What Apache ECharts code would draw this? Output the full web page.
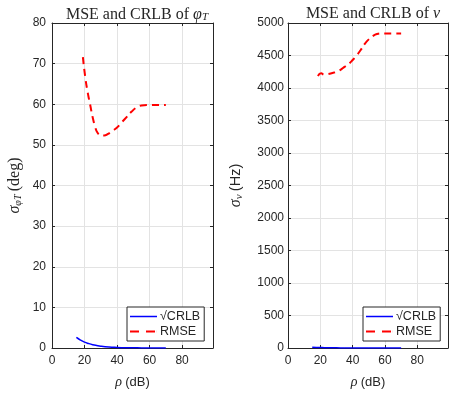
<!DOCTYPE html>
<html>
<head>
<meta charset="utf-8">
<script src="https://cdn.jsdelivr.net/npm/echarts@6/dist/echarts.min.js"></script>
<style>
html,body{margin:0;padding:0;background:#fff;}
#c{width:450px;height:394px;}
</style>
</head>
<body>
<div id="c"></div>
<script>
// ---- data ----
var rhoCrlb = [15, 17.5, 20, 22.5, 25, 27.5, 30, 35, 40, 45, 50, 55, 60, 65, 70];
var crlbPhi = [2.6, 1.95, 1.45, 1.1, 0.82, 0.62, 0.46, 0.26, 0.15, 0.08, 0.05, 0.03, 0.015, 0.01, 0.005];
var crlbNu  = [12, 9, 7, 5, 4, 3, 2, 1, 0.7, 0.4, 0.2, 0.1, 0.07, 0.04, 0.02];

var rhoRmsePhi = [19, 20.5, 22, 23.5, 25, 26.5, 28, 30, 32, 34.5, 37, 40, 43, 46, 49, 52, 55, 60, 65, 70];
var rmsePhi    = [71.6, 66.5, 62.8, 59.8, 56.8, 54.5, 53.0, 52.4, 52.3, 52.7, 53.4, 54.3, 55.6, 56.9, 58.2, 59.2, 59.7, 59.8, 59.8, 59.8];

var rhoRmseNu = [18.5, 20.5, 22.5, 25, 27.5, 30, 32.5, 35, 38, 40, 42.5, 45, 47.5, 50, 52.5, 55, 58, 62, 66, 70];
var rmseNu    = [4185, 4227, 4205, 4215, 4232, 4248, 4280, 4325, 4380, 4430, 4500, 4585, 4680, 4750, 4800, 4830, 4840, 4840, 4840, 4840];

var xTicks = [0, 20, 40, 60, 80];
var yTicksPhi = [0, 10, 20, 30, 40, 50, 60, 70, 80];
var yTicksNu = [0, 500, 1000, 1500, 2000, 2500, 3000, 3500, 4000, 4500, 5000];

var names = ['\u221ACRLB', 'RMSE'];

function pairs(xs, ys) { return xs.map(function (x, i) { return [x, ys[i]]; }); }

var AX = '#262626';
var GRID = '#e3e3e3';
var sans = 'Liberation Sans';
var serif = 'Liberation Serif';

function xMain(gi) {
  return {
    type: 'value', gridIndex: gi, min: 0, max: 99, interval: 20, position: 'bottom',
    axisLine: { show: true, onZero: false, lineStyle: { color: AX, width: 1 } },
    axisTick: { show: true, inside: true, length: 3, lineStyle: { color: AX } },
    axisLabel: {
      color: AX, fontFamily: sans, fontSize: 12, margin: 7, showMaxLabel: false,
      formatter: function (v) { return xTicks.indexOf(v) >= 0 ? String(v) : ''; }
    },
    splitLine: { show: true, lineStyle: { color: GRID, width: 1 } },
    name: '{i|\u03C1} {t|(dB)}', nameLocation: 'middle', nameGap: 27,
    nameTextStyle: {
      rich: {
        i: { fontFamily: serif, fontStyle: 'italic', fontSize: 14, color: AX },
        t: { fontFamily: sans, fontSize: 13, color: AX }
      }
    }
  };
}
function xTop(gi) {
  return {
    type: 'value', gridIndex: gi, min: 0, max: 99, interval: 20, position: 'top',
    axisLine: { show: true, onZero: false, lineStyle: { color: AX, width: 1 } },
    axisTick: { show: true, inside: true, length: 3, lineStyle: { color: AX } },
    axisLabel: { show: false }, splitLine: { show: false }
  };
}
function yMain(gi, ticks, interval, margin, name, rich, gap) {
  return {
    type: 'value', gridIndex: gi, min: 0, max: ticks[ticks.length - 1], interval: interval, position: 'left',
    axisLine: { show: true, onZero: false, lineStyle: { color: AX, width: 1 } },
    axisTick: { show: true, inside: true, length: 3, lineStyle: { color: AX } },
    axisLabel: {
      color: AX, fontFamily: sans, fontSize: 12, margin: margin,
      formatter: function (v) { return ticks.indexOf(v) >= 0 ? String(v) : ''; }
    },
    splitLine: { show: true, lineStyle: { color: GRID, width: 1 } },
    name: name, nameLocation: 'middle', nameGap: gap, nameRotate: 90,
    nameTextStyle: { rich: rich }
  };
}
function yRight(gi, max, interval) {
  return {
    type: 'value', gridIndex: gi, min: 0, max: max, interval: interval, position: 'right',
    axisLine: { show: true, onZero: false, lineStyle: { color: AX, width: 1 } },
    axisTick: { show: true, inside: true, length: 3, lineStyle: { color: AX } },
    axisLabel: { show: false }, splitLine: { show: false }
  };
}

var solidIcon = 'path://M0,0H27V1.5H0Z';
var dashIcon = 'path://M0,0H9V2H0Z M16,0H25V2H16Z M26.9,0H27V2H26.9Z';
function legendAt(left) {
  return {
    data: [{ name: names[0], icon: solidIcon }, { name: names[1], icon: dashIcon }],
    orient: 'vertical', left: left, top: 307, itemWidth: 27, itemHeight: 2, itemGap: 2,
    padding: [3, 4, 3, 3], borderColor: AX, borderWidth: 1, backgroundColor: '#fff', borderRadius: 0,
    textStyle: { fontFamily: sans, fontSize: 12.5, color: AX, padding: [0, 0, 0, -2] }, selectedMode: false
  };
}

var chart = echarts.init(document.getElementById('c'), null, { renderer: 'canvas' });
chart.setOption({
  animation: false,
  backgroundColor: '#ffffff',
  title: [
    {
      text: 'MSE and CRLB of {i|\u03C6}{s|T}', left: 132, top: 1, textAlign: 'center',
      textStyle: {
        fontFamily: serif, fontWeight: 'normal', fontSize: 16, color: AX,
        rich: {
          i: { fontFamily: serif, fontStyle: 'italic', fontSize: 16, color: AX },
          s: { fontFamily: serif, fontStyle: 'italic', fontSize: 11, color: AX, verticalAlign: 'bottom', padding: [6, 0, 0, 0] }
        }
      }
    },
    {
      text: 'MSE and CRLB of {i|\u03BD}', left: 368, top: 1, textAlign: 'center',
      textStyle: {
        fontFamily: serif, fontWeight: 'normal', fontSize: 16, color: AX,
        rich: { i: { fontFamily: serif, fontStyle: 'italic', fontSize: 16, color: AX } }
      }
    }
  ],
  grid: [
    { left: 52, top: 23, width: 161, height: 327, containLabel: false },
    { left: 288, top: 23, width: 160, height: 327, containLabel: false }
  ],
  xAxis: [xMain(0), xTop(0), xMain(1), xTop(1)],
  yAxis: [
    yMain(0, yTicksPhi, 10, 6, '{s|\u03C3}{b|\u03C6T} {t|(deg)}', {
      s: { fontFamily: serif, fontStyle: 'italic', fontSize: 16, color: AX },
      b: { fontFamily: serif, fontStyle: 'italic', fontSize: 10, color: AX, padding: [7, 0, 0, 0] },
      t: { fontFamily: serif, fontSize: 16, color: AX }
    }, 29),
    yRight(0, 80, 10),
    yMain(1, yTicksNu, 500, 4, '{s|\u03C3}{b|\u03BD} {t|(Hz)}', {
      s: { fontFamily: serif, fontStyle: 'italic', fontSize: 16, color: AX },
      b: { fontFamily: serif, fontStyle: 'italic', fontSize: 11, color: AX, padding: [7, 0, 0, 0] },
      t: { fontFamily: sans, fontSize: 14.5, color: AX }
    }, 43),
    yRight(1, 5000, 500)
  ],
  legend: [legendAt(127), legendAt(363)],
  series: [
    { name: names[0], type: 'line', xAxisIndex: 0, yAxisIndex: 0, data: pairs(rhoCrlb, crlbPhi), smooth: true,
      showSymbol: false, symbol: 'none', color: '#0000ff', lineStyle: { color: '#0000ff', width: 1.5 } },
    { name: names[1], type: 'line', xAxisIndex: 0, yAxisIndex: 0, data: pairs(rhoRmsePhi, rmsePhi), smooth: true,
      showSymbol: false, symbol: 'none', color: '#ff0000', lineStyle: { color: '#ff0000', width: 2, type: [7, 5] } },
    { name: names[0], type: 'line', xAxisIndex: 2, yAxisIndex: 2, data: pairs(rhoCrlb, crlbNu), smooth: true,
      showSymbol: false, symbol: 'none', color: '#0000ff', lineStyle: { color: '#0000ff', width: 1.5 } },
    { name: names[1], type: 'line', xAxisIndex: 2, yAxisIndex: 2, data: pairs(rhoRmseNu, rmseNu), smooth: true,
      showSymbol: false, symbol: 'none', color: '#ff0000', lineStyle: { color: '#ff0000', width: 2, type: [7, 5] } }
  ]
});
</script>
</body>
</html>
